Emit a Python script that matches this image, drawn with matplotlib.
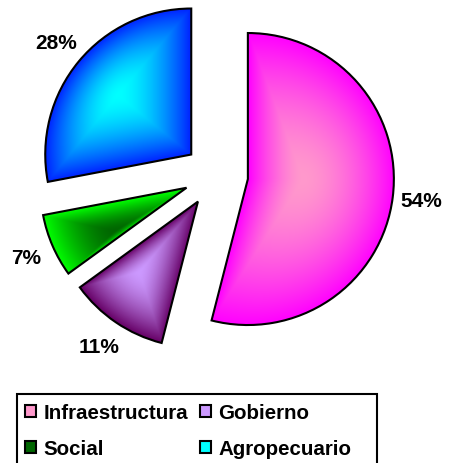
import numpy as np
import matplotlib
matplotlib.use("Agg")
import matplotlib.pyplot as plt
from matplotlib.patches import Patch, Rectangle
from matplotlib.colors import to_rgb

# ---- data ----
categories = ["Infraestructura", "Gobierno", "Social", "Agropecuario"]
values = [54, 11, 7, 28]
center_colors = ["#FF99CC", "#CC99FF", "#006600", "#00FFFF"]
edge_colors = ["#FF00FF", "#660066", "#00FF00", "#0022FF"]

plt.rcParams['font.family'] = ['Liberation Sans', 'DejaVu Sans']

W, H = 458, 464
fig = plt.figure(figsize=(W / 100, H / 100), dpi=100)
ax = fig.add_axes([0, 0, 1, 1])

R_PX = 146.0
CX, CY = 216.0, 176.0

wedges, texts, autotexts = ax.pie(
    values, startangle=90, counterclock=False,
    explode=[0.22] * len(values), radius=1.0,
    autopct='%1.0f%%', pctdistance=1.2,
    wedgeprops=dict(facecolor='none', edgecolor='black', linewidth=1.5),
    textprops=dict(fontsize=15, fontweight='bold', color='black'))

ax.set_xlim(-CX / R_PX, (W - CX) / R_PX)
ax.set_ylim(-(H - CY) / R_PX, CY / R_PX)
ax.set_aspect('auto')
ax.axis('off')


def gradient_fill(wedge, c_in, c_out):
    cx, cy = wedge.center
    r = wedge.r
    t1, t2 = np.deg2rad(wedge.theta1), np.deg2rad(wedge.theta2)
    arc = np.linspace(t1, t2, 400)
    ax_pts = cx + r * np.cos(arc)
    ay_pts = cy + r * np.sin(arc)
    e1 = np.linspace(0, 1, 200)
    bx = np.concatenate([cx + (ax_pts[0] - cx) * e1, ax_pts, ax_pts[-1] + (cx - ax_pts[-1]) * e1])
    by = np.concatenate([cy + (ay_pts[0] - cy) * e1, ay_pts, ay_pts[-1] + (cy - ay_pts[-1]) * e1])
    x0, x1, y0, y1 = bx.min(), bx.max(), by.min(), by.max()
    gx, gy = (x0 + x1) / 2, (y0 + y1) / 2
    phi_b = np.arctan2(by - gy, bx - gx)
    d_b = np.hypot(bx - gx, by - gy)
    order = np.argsort(phi_b)
    phi_b, d_b = phi_b[order], d_b[order]
    nx = int((x1 - x0) * R_PX * 2) + 2
    ny = int((y1 - y0) * R_PX * 2) + 2
    xs = np.linspace(x0, x1, nx)
    ys = np.linspace(y0, y1, ny)
    X, Y = np.meshgrid(xs, ys)
    phi = np.arctan2(Y - gy, X - gx)
    d = np.hypot(X - gx, Y - gy)
    rb = np.interp(phi, phi_b, d_b, period=2 * np.pi)
    t = np.clip(d / rb, 0, 1) ** 1.6
    t = t[..., None]
    ci = np.array(to_rgb(c_in))
    co = np.array(to_rgb(c_out))
    img = ci * (1 - t) + co * t
    im = ax.imshow(img, extent=(x0, x1, y0, y1), origin='lower',
                   interpolation='bilinear', zorder=0.5, aspect='auto')
    im.set_clip_path(wedge)


for w, ci, co in zip(wedges, center_colors, edge_colors):
    gradient_fill(w, ci, co)
    w.set_zorder(1)

ax.set_xlim(-CX / R_PX, (W - CX) / R_PX)
ax.set_ylim(-(H - CY) / R_PX, CY / R_PX)

# legend frame (drawn separately to match the reference box width)
fig.patches.append(Rectangle((17 / W, 1 - 467 / H), 360 / W, 72 / H,
                             transform=fig.transFigure, facecolor='white',
                             edgecolor='black', linewidth=1.5, zorder=2))

handles = [Patch(facecolor=ci, edgecolor='black', linewidth=1.5) for ci in center_colors]
order = [0, 2, 1, 3]
leg = fig.legend([handles[i] for i in order], [categories[i] for i in order],
                 ncol=2, loc='upper left',
                 bbox_to_anchor=(21 / W, 1 - 400 / H), borderaxespad=0,
                 prop=dict(family=['Liberation Sans', 'DejaVu Sans'], weight='bold', size=14.8),
                 handlelength=0.55, handleheight=0.55, handletextpad=0.35,
                 columnspacing=0.55, labelspacing=0.82, borderpad=0.2,
                 fancybox=False, frameon=False)
leg.set_zorder(3)

fig.savefig('out.png', dpi=100)
